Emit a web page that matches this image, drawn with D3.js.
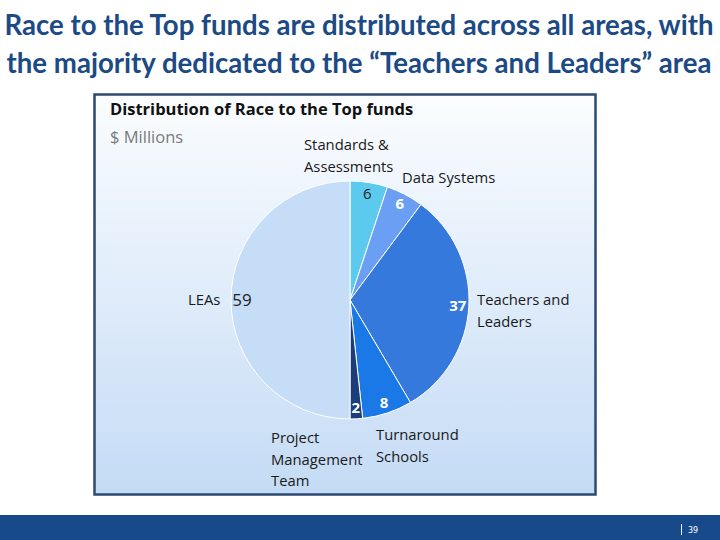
<!DOCTYPE html>
<html><head><meta charset="utf-8">
<script src="https://cdn.jsdelivr.net/npm/d3@7"></script>
<style>body{margin:0;background:#fff}svg{display:block}</style>
</head><body><svg id="c" width="720" height="540"></svg>
<script>
const titleLines = ["Race to the Top funds are distributed across all areas, with", "the majority dedicated to the \u201cTeachers and Leaders\u201d area"];
const chartTitle = "Distribution of Race to the Top funds";
const unitLabel = "$ Millions";
const categories = ["Standards & Assessments", "Data Systems", "Teachers and Leaders", "Turnaround Schools", "Project Management Team", "LEAs"];
const values = [6, 6, 37, 8, 2, 59];
const colors = ["#5ccaee", "#6b9ff4", "#3679dc", "#1a79e6", "#1b3e7a", "#c6ddf7"];
const labelColors = ["#222", "#fff", "#fff", "#fff", "#fff", "#222"];
const catLines = [["Standards &", "Assessments"], ["Data Systems"], ["Teachers and", "Leaders"], ["Turnaround", "Schools"], ["Project", "Management", "Team"], ["LEAs"]];
// layout for category text (position of first line, relative to pie centre)
const catPos = [[-46, -150, "start"], [52, -117, "start"], [127, 5, "start"], [26, 140, "start"], [-79, 143, "start"], [-162, 5, "start"]];
const pageNum = "39";

const svg = d3.select("#c");
const defs = svg.append("defs");
const g1 = defs.append("linearGradient").attr("id","bg").attr("x1",0).attr("y1",0).attr("x2",0).attr("y2",1);
g1.append("stop").attr("offset","0%").attr("stop-color","#fbfdff");
g1.append("stop").attr("offset","100%").attr("stop-color","#c4dbf5");

// title
svg.append("g").selectAll("text").data(titleLines).join("text")
  .attr("x", 359).attr("y", (d,i)=>35+i*38).attr("text-anchor","middle")
  .attr("font-family","Lato, 'Open Sans', sans-serif").attr("font-weight","bold").attr("font-size",27.6)
  .attr("fill","#1c4a85").text(d=>d);

// panel
svg.append("rect").attr("x",94.5).attr("y",94.5).attr("width",501).attr("height",400)
  .attr("fill","url(#bg)").attr("stroke","#2d4a70").attr("stroke-width",2.5);

svg.append("text").attr("x",110).attr("y",115).attr("font-family","'Open Sans', sans-serif")
  .attr("font-weight","bold").attr("font-size",16.5).attr("fill","#111").text(chartTitle);
svg.append("text").attr("x",110).attr("y",143).attr("font-family","'Open Sans', sans-serif")
  .attr("font-size",16.5).attr("fill","#7a7a7a").text(unitLabel);

// pie
const cx = 350, cy = 300, R = 119;
const pie = d3.pie().sort(null).value(d=>d);
const arcs = pie(values);
const arc = d3.arc().innerRadius(0).outerRadius(R);
const pg = svg.append("g").attr("transform",`translate(${cx},${cy})`);
pg.selectAll("path").data(arcs).join("path")
  .attr("d",arc).attr("fill",(d,i)=>colors[i]).attr("stroke","#fff").attr("stroke-width",1);

const lr = d3.arc().innerRadius(108).outerRadius(108);
pg.selectAll("text.v").data(arcs).join("text").attr("class","v")
  .attr("transform",d=>`translate(${lr.centroid(d)})`)
  .attr("text-anchor","middle").attr("dy","0.35em")
  .attr("font-family","'Open Sans', sans-serif").attr("font-weight",(d,i)=> i===0||i===5 ? "normal":"bold")
  .attr("font-size",(d,i)=> i===5 ? 17 : 15)
  .attr("fill",(d,i)=>labelColors[i]).text(d=>d.data);

// category labels
categories.forEach((c,i)=>{
  const t = pg.append("text").attr("x",catPos[i][0]).attr("y",catPos[i][1]).attr("text-anchor",catPos[i][2])
    .attr("font-family","'Open Sans', sans-serif").attr("font-size",14.8).attr("fill","#1a1a1a");
  catLines[i].forEach((l,j)=>t.append("tspan").attr("x",catPos[i][0]).attr("dy", j===0?0:21.5).text(l));
});

// footer
svg.append("rect").attr("x",0).attr("y",515).attr("width",720).attr("height",25).attr("fill","#174a8b");
svg.append("line").attr("x1",681.5).attr("x2",681.5).attr("y1",524).attr("y2",535).attr("stroke","#fff").attr("stroke-width",1);
svg.append("text").attr("x",688).attr("y",533).attr("font-family","'DejaVu Sans', sans-serif").attr("font-size",8).attr("fill","#fff").text(pageNum);
</script></body></html>
